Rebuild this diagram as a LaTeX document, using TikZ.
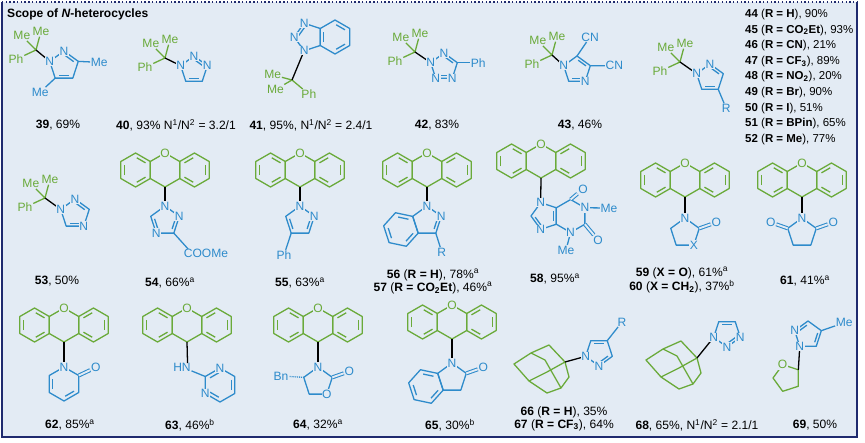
\documentclass[tikz,border=0pt]{standalone}
\usepackage{fontspec}
\setmainfont{Liberation Sans}
\usetikzlibrary{calc}
\definecolor{bg}{HTML}{E3EBF4}
\definecolor{xgreen}{HTML}{6AAA3A}
\definecolor{xblue}{HTML}{2E8BCB}
\definecolor{frame}{HTML}{1F2A6E}
\newcommand\lbl{\fontsize{10.3}{12}\selectfont}
\tikzset{
  bond/.style={line width=1.1pt, line join=round},
  gbond/.style={bond, draw=xgreen},
  bbond/.style={bond, draw=xblue},
  kbond/.style={bond, draw=black},
  cobond/.style={draw=xblue, double=bg, double distance=1.6pt, line width=0.9pt},
  atb/.style={fill=bg, inner sep=0.5pt, text=xblue, font=\lbl},
  atg/.style={fill=bg, inner sep=0.5pt, text=xgreen, font=\lbl},
  lab/.style={inner sep=0pt, font=\lbl, text=black},
}
% ring: name, sides, centre, radius, start angle, style
\newcommand\ring[6]{%
  \coordinate (#1c) at (#3);
  \foreach \k in {1,...,#2}{\coordinate (#1\k) at ($(#1c)+({#5+360/#2*(\k-1)}:#4)$);}
  \draw[#6] (#11) \foreach \k in {2,...,#2}{-- (#1\k)} -- cycle;}
% inner line of a double bond
\newcommand\dbin[4]{%
  \draw[#4, shorten <=1.2pt, shorten >=1.2pt] ($(#1c)!.76!(#1#2)$) -- ($(#1c)!.76!(#1#3)$);}
% xanthene, C9 at (#2,#3)
\newcommand\xanth[3]{%
  \ring{#1m}{6}{#2,#3-17}{17}{30}{gbond}
  \ring{#1l}{6}{#2-29.44,#3-17}{17}{30}{gbond}
  \ring{#1r}{6}{#2+29.44,#3-17}{17}{30}{gbond}
  \dbin{#1l}{1}{2}{gbond}\dbin{#1l}{3}{4}{gbond}\dbin{#1l}{5}{6}{gbond}
  \dbin{#1r}{2}{3}{gbond}\dbin{#1r}{4}{5}{gbond}\dbin{#1r}{6}{1}{gbond}
  \node[atg] (#1o) at (#1m5) {O};}
% CMe2Ph: name, position, angles of Me, Me, Ph
\newcommand\cq[5]{%
  \coordinate (#1) at (#2);
  \node[atg] (#1a) at ($(#1)+(#3:20)$) {Me};
  \node[atg] (#1b) at ($(#1)+(#4:19)$) {Me};
  \node[atg] (#1p) at ($(#1)+(#5:22)$) {Ph};
  \draw[gbond] (#1a) -- (#1) -- (#1b) (#1) -- (#1p);}
% adamantane, attach point
\newcommand\adam[2]{%
  \begin{scope}[shift={(#2)}]
    \draw[gbond] (0,0) -- (-16,-17) -- (-34,-9) -- (-51,2) -- (-36,19) -- (-18,31) -- (-4,26) -- (4,15) -- cycle;
    \draw[gbond] (0,0) -- (-18,10) -- (-36,19) (-34,-9) -- (-20,-2) -- (-4,26);
  \end{scope}
  \coordinate (#1) at (#2);}

\begin{document}
\begin{tikzpicture}[x=0.03cm, y=-0.03cm]
  \useasboundingbox (0,0) rectangle (865,442);
  \fill[white] (0,0) rectangle (865,442);
  \fill[bg] (2,2) rectangle (857,437);
  \draw[frame, line width=1.2pt] (2,2) -- (2,437) -- (857,437) -- (857,2);
  \draw[frame, line width=1.2pt, dotted] (2,2) -- (857,2);
  \node[anchor=west, inner sep=0pt, font=\fontsize{10.3}{12}\selectfont\bfseries] (title) at (7,14) {Scope of \textit{N}-heterocycles};

  % row 1
  \cq{qa}{36,50}{225}{285}{155}
  \ring{pa}{5}{64,66}{15}{198}{bbond}
  \dbin{pa}{2}{3}{bbond}\dbin{pa}{4}{5}{bbond}
  \node[atb] (maa) at ($(pa3)+(21,1)$) {Me};
  \node[atb] (mab) at ($(pa5)+(-15,14)$) {Me};
  \draw[bbond] (pa3) -- (maa) (pa5) -- (mab);
  \draw[kbond] (qa) -- (pa1);
  \node[atb] at (pa1) {N}; \node[atb] at (pa2) {N};

  \cq{qb}{165,58}{225}{285}{155}
  \ring{pb}{5}{194,70}{14}{198}{bbond}
  \dbin{pb}{2}{3}{bbond}\dbin{pb}{4}{5}{bbond}
  \draw[kbond] (qb) -- (pb1);
  \node[atb] at (pb1) {N}; \node[atb] at (pb2) {N}; \node[atb] at (pb3) {N};

  \ring{hc}{6}{335,37}{17}{30}{bbond}
  \dbin{hc}{1}{2}{bbond}\dbin{hc}{3}{4}{bbond}\dbin{hc}{5}{6}{bbond}
  \ring{pc}{5}{308.6,37}{14.46}{36}{bbond}
  \dbin{pc}{3}{4}{bbond}
  \cq{qc}{292,80}{195}{150}{40}
  \draw[kbond] (qc) -- (pc2);
  \node[atb] at (pc2) {N}; \node[atb] at (pc3) {N}; \node[atb] at (pc4) {N};

  \cq{qd}{415,52}{225}{285}{155}
  \ring{pd}{5}{444,67}{14}{198}{bbond}
  \dbin{pd}{2}{3}{bbond}\dbin{pd}{4}{5}{bbond}
  \node[atb] (phd) at ($(pd3)+(21,0)$) {Ph};
  \draw[bbond] (pd3) -- (phd);
  \draw[kbond] (qd) -- (pd1);
  \foreach \v in {1,2,4,5}{\node[atb] at (pd\v) {N};}

  \cq{qe}{552,55}{225}{285}{155}
  \ring{pe}{5}{577,70}{14}{198}{bbond}
  \dbin{pe}{2}{3}{bbond}\dbin{pe}{4}{5}{bbond}
  \node[atb] (cne) at ($(pe2)+(13,-19)$) {CN};
  \node[atb] (cnf) at ($(pe3)+(24,0)$) {CN};
  \draw[bbond] (pe2) -- (cne) (pe3) -- (cnf);
  \draw[kbond] (qe) -- (pe1);
  \node[atb] at (pe1) {N}; \node[atb] at (pe4) {N};

  \cq{qf}{680,62}{225}{285}{155}
  \ring{pf}{5}{710,78}{14}{198}{bbond}
  \dbin{pf}{2}{3}{bbond}\dbin{pf}{4}{5}{bbond}
  \node[atb] (rf) at ($(pf4)+(8,19)$) {R};
  \draw[bbond] (pf4) -- (rf);
  \draw[kbond] (qf) -- (pf1);
  \node[atb] at (pf1) {N}; \node[atb] at (pf2) {N};

  \node[lab, anchor=north west, align=left, font=\fontsize{9.8}{11}\selectfont] (list) at (745,9) {%
    \textbf{44} (\textbf{R = H}), 90\%\\[2.3pt]
    \textbf{45} (\textbf{R = CO\textsubscript{2}Et}), 93\%\\[2.3pt]
    \textbf{46} (\textbf{R = CN}), 21\%\\[2.3pt]
    \textbf{47} (\textbf{R = CF\textsubscript{3}}), 89\%\\[2.3pt]
    \textbf{48} (\textbf{R = NO\textsubscript{2}}), 20\%\\[2.3pt]
    \textbf{49} (\textbf{R = Br}), 90\%\\[2.3pt]
    \textbf{50} (\textbf{R = I}), 51\%\\[2.3pt]
    \textbf{51} (\textbf{R = BPin}), 65\%\\[2.3pt]
    \textbf{52} (\textbf{R = Me}), 77\%};

  \node[lab] (l39) at (58,125) {\textbf{39}, 69\%};
  \node[lab] (l40) at (176,125) {\textbf{40}, 93\% N\textsuperscript{1}/N\textsuperscript{2} = 3.2/1};
  \node[lab] (l41) at (311,125) {\textbf{41}, 95\%, N\textsuperscript{1}/N\textsuperscript{2} = 2.4/1};
  \node[lab] (l42) at (437,125) {\textbf{42}, 83\%};
  \node[lab] (l43) at (580,125) {\textbf{43}, 46\%};

  % row 2
  \cq{qg}{45,198}{225}{285}{155}
  \ring{pg}{5}{75,214}{15}{198}{bbond}
  \dbin{pg}{2}{3}{bbond}\dbin{pg}{4}{5}{bbond}
  \draw[kbond] (qg) -- (pg1);
  \node[atb] at (pg1) {N}; \node[atb] at (pg2) {N}; \node[atb] at (pg4) {N};

  \xanth{xa}{165}{187}
  \ring{ph}{5}{165,221}{15}{270}{bbond}
  \dbin{ph}{2}{3}{bbond}\dbin{ph}{4}{5}{bbond}
  \node[atb] (coo) at (206,253) {COOMe};
  \draw[bbond] (ph3) -- ($(coo.north west)+(5,1)$);
  \draw[kbond] (xam2) -- (ph1);
  \node[atb] at (ph1) {N}; \node[atb] at (ph2) {N}; \node[atb] at (ph4) {N};

  \xanth{xb}{300}{187}
  \ring{pi}{5}{300,221}{15}{270}{bbond}
  \dbin{pi}{2}{3}{bbond}\dbin{pi}{4}{5}{bbond}
  \node[atb] (phi) at (284,255) {Ph};
  \draw[bbond] (pi4) -- (phi);
  \draw[kbond] (xbm2) -- (pi1);
  \node[atb] at (pi1) {N}; \node[atb] at (pi2) {N};

  \xanth{xc}{427}{187}
  \ring{pj}{5}{427,221}{15}{270}{bbond}
  \ring{hj}{6}{400.9,229.5}{17.63}{-48}{bbond}
  \dbin{pj}{2}{3}{bbond}
  \dbin{hj}{2}{3}{bbond}\dbin{hj}{4}{5}{bbond}\dbin{hj}{6}{1}{bbond}
  \node[atb] (rj) at ($(pj3)+(6,19)$) {R};
  \draw[bbond] (pj3) -- (rj);
  \draw[kbond] (xcm2) -- (pj1);
  \node[atb] at (pj1) {N}; \node[atb] at (pj2) {N};

  \xanth{xd}{541}{178}
  \ring{pk}{5}{545,216}{14}{36}{bbond}
  \ring{hk}{6}{570.6,216}{16.46}{30}{bbond}
  \dbin{pk}{2}{3}{bbond}\dbin{pk}{5}{1}{bbond}
  \node[atb] (ok1) at (583,189) {O};
  \node[atb] (ok2) at (598,240) {O};
  \node[atb] (mk1) at (609,208) {Me};
  \node[atb] (mk2) at (566,250) {Me};
  \draw[cobond] (hk5) -- (ok1);
  \draw[cobond] (hk1) -- (ok2);
  \draw[bbond] (hk6) -- (mk1) (hk2) -- (mk2);
  \draw[kbond] (xdm2) -- (pk4);
  \node[atb] at (pk2) {N}; \node[atb] at (pk4) {N};
  \node[atb] at (hk6) {N}; \node[atb] at (hk2) {N};

  \xanth{xe}{685}{197}
  \ring{pl}{5}{685,233}{15}{270}{bbond}
  \node[atb] (ol) at ($(pl2)+(17,-6)$) {O};
  \draw[cobond] (pl2) -- (ol);
  \draw[kbond] (xem2) -- (pl1);
  \node[atb] at (pl1) {N}; \node[atb] at (pl3) {X};

  \xanth{xf}{802}{197}
  \ring{pm}{5}{802,233}{15}{270}{bbond}
  \node[atb] (om1) at ($(pm2)+(17,-6)$) {O};
  \node[atb] (om2) at ($(pm5)+(-17,-6)$) {O};
  \draw[cobond] (pm2) -- (om1) (pm5) -- (om2);
  \draw[kbond] (xfm2) -- (pm1);
  \node[atb] at (pm1) {N};

  \node[lab] (l53) at (57,281) {\textbf{53}, 50\%};
  \node[lab] (l54) at (170,283) {\textbf{54}, 66\%\textsuperscript{a}};
  \node[lab] (l55) at (300,283) {\textbf{55}, 63\%\textsuperscript{a}};
  \node[lab] (l56) at (433,275) {\textbf{56} (\textbf{R = H}), 78\%\textsuperscript{a}};
  \node[lab] (l57) at (433,288) {\textbf{57} (\textbf{R = CO\textsubscript{2}Et}), 46\%\textsuperscript{a}};
  \node[lab] (l58) at (555,279) {\textbf{58}, 95\%\textsuperscript{a}};
  \node[lab] (l59) at (682,273) {\textbf{59} (\textbf{X = O}), 61\%\textsuperscript{a}};
  \node[lab] (l60) at (682,287) {\textbf{60} (\textbf{X = CH\textsubscript{2}}), 37\%\textsuperscript{b}};
  \node[lab] (l61) at (805,281) {\textbf{61}, 41\%\textsuperscript{a}};

  % row 3
  \xanth{xg}{64}{342}
  \ring{hn}{6}{64,384}{17}{270}{bbond}
  \dbin{hn}{3}{4}{bbond}\dbin{hn}{5}{6}{bbond}
  \node[atb] (on) at ($(hn2)+(17,-8)$) {O};
  \draw[cobond] (hn2) -- (on);
  \draw[kbond] (xgm2) -- (hn1);
  \node[atb] at (hn1) {N};

  \xanth{xh}{187}{342}
  \ring{ho}{6}{220,385}{17}{270}{bbond}
  \dbin{ho}{2}{3}{bbond}\dbin{ho}{4}{5}{bbond}\dbin{ho}{6}{1}{bbond}
  \node[atb] (hno) at (182,367) {HN};
  \draw[kbond] (xhm2) -- ($(hno.north east)+(-4,1)$);
  \draw[bbond] (ho6) -- (hno);
  \node[atb] at (ho1) {N}; \node[atb] at (ho5) {N};

  \xanth{xi}{318}{342}
  \ring{pp}{5}{318,382}{15}{270}{bbond}
  \node[atb] (op) at ($(pp2)+(17,-6)$) {O};
  \node[atb] (bnp) at (281,376) {Bn};
  \draw[cobond] (pp2) -- (op);
  \draw[bbond, dash pattern=on 0.8pt off 0.8pt] (pp5) -- (bnp);
  \draw[kbond] (xim2) -- (pp1);
  \node[atb] at (pp1) {N}; \node[atb] at (pp3) {O};

  \xanth{xj}{452}{339}
  \ring{pq}{5}{452,378}{15}{270}{bbond}
  \ring{hq}{6}{425.9,386.5}{17.63}{-48}{bbond}
  \dbin{hq}{2}{3}{bbond}\dbin{hq}{4}{5}{bbond}\dbin{hq}{6}{1}{bbond}
  \node[atb] (oq) at ($(pq2)+(17,-6)$) {O};
  \draw[cobond] (pq2) -- (oq);
  \draw[kbond] (xjm2) -- (pq1);
  \node[atb] at (pq1) {N};

  \adam{ar}{565,362}
  \ring{pr}{5}{599,352}{14}{90}{bbond}
  \dbin{pr}{3}{4}{bbond}\dbin{pr}{5}{1}{bbond}
  \node[atb] (rr) at (622,322) {R};
  \draw[bbond] (pr4) -- (rr);
  \draw[kbond] (ar) -- (pr2);
  \node[atb] at (pr1) {N}; \node[atb] at (pr2) {N};

  \adam{as}{697,358}
  \ring{ps}{5}{727,333}{14}{90}{bbond}
  \dbin{ps}{3}{4}{bbond}\dbin{ps}{5}{1}{bbond}
  \draw[kbond] (as) -- (ps2);
  \node[atb] at (ps1) {N}; \node[atb] at (ps2) {N}; \node[atb] at (ps5) {N};

  \ring{pt}{5}{808,335}{14}{126}{bbond}
  \dbin{pt}{2}{3}{bbond}\dbin{pt}{4}{5}{bbond}
  \ring{tt}{5}{787,378}{14}{-36}{gbond}
  \node[atb] (mt) at ($(pt4)+(23,-8)$) {Me};
  \draw[bbond] (pt4) -- (mt);
  \draw[kbond] (pt1) -- (tt1);
  \node[atb] at (pt1) {N}; \node[atb] at (pt2) {N};
  \node[atg] at (tt5) {O};

  \node[lab] (l62) at (70,425) {\textbf{62}, 85\%\textsuperscript{a}};
  \node[lab] (l63) at (190,425) {\textbf{63}, 46\%\textsuperscript{b}};
  \node[lab] (l64) at (318,425) {\textbf{64}, 32\%\textsuperscript{a}};
  \node[lab] (l65) at (450,425) {\textbf{65}, 30\%\textsuperscript{b}};
  \node[lab] (l66) at (564,412) {\textbf{66} (\textbf{R = H}), 35\%};
  \node[lab] (l67) at (564,425) {\textbf{67} (\textbf{R = CF\textsubscript{3}}), 64\%};
  \node[lab] (l68) at (697,425) {\textbf{68}, 65\%, N\textsuperscript{1}/N\textsuperscript{2} = 2.1/1};
  \node[lab] (l69) at (815,425) {\textbf{69}, 50\%};
\end{tikzpicture}
\end{document}
